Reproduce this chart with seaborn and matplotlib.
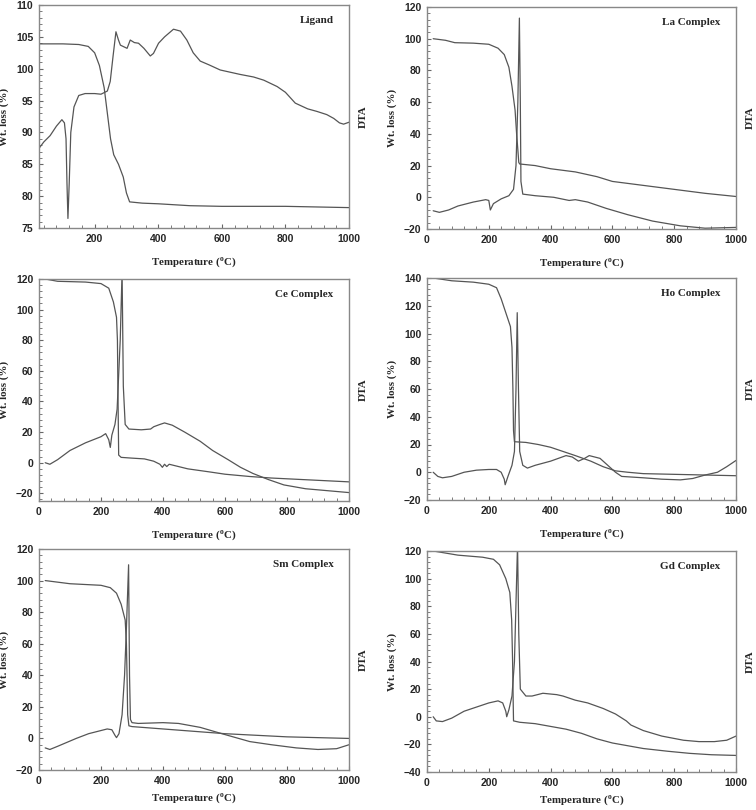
import matplotlib
matplotlib.use("Agg")
import numpy as np
import pandas as pd
import seaborn as sns
import matplotlib.pyplot as plt
from matplotlib.ticker import MultipleLocator, AutoMinorLocator

# ---- Ligand ----
ligand_tga_t = [25, 100, 150, 180, 200, 215, 230, 240, 250, 260, 275, 290, 300, 310, 350, 400, 500, 600, 800, 1000]
ligand_tga_w = [103.9, 103.9, 103.8, 103.5, 102.5, 100.5, 97, 93, 89, 86.5, 85, 83, 80.5, 79.1, 78.9, 78.8, 78.5, 78.4, 78.4, 78.2]
ligand_dta_t = [25, 40, 60, 80, 97, 105, 110, 113, 116, 120, 125, 135, 150, 170, 200, 220, 240, 249, 258, 267, 275, 281, 302, 312, 325, 338, 355, 375, 385, 401, 420, 448, 470, 490, 510, 532, 560, 595, 658, 700, 732, 774, 800, 831, 870, 899, 930, 952, 970, 983, 1000]
ligand_dta_v = [87.5, 88.5, 89.5, 91, 92, 91.5, 89, 82, 76.5, 82, 90, 94, 95.8, 96.1, 96.1, 96, 96.5, 98, 102, 105.8, 104.5, 103.7, 103.2, 104.5, 104.1, 104, 103.2, 102.0, 102.4, 104, 105, 106.2, 105.9, 104.5, 102.5, 101.2, 100.6, 99.8, 99.1, 98.7, 98.2, 97.2, 96.3, 94.6, 93.7, 93.3, 92.8, 92.2, 91.5, 91.3, 91.6]

# ---- La complex ----
la_tga_t = [20, 60, 90, 150, 200, 230, 250, 265, 275, 285, 290, 294, 297, 300, 350, 400, 480, 550, 600, 680, 800, 900, 1000]
la_tga_w = [100, 99, 97.5, 97.2, 96.5, 94, 90, 82, 70, 55, 40, 30, 22, 21, 20, 18, 16, 13, 10, 8, 5, 2.5, 0.5]
la_dta_t = [20, 40, 70, 100, 150, 190, 200, 205, 215, 240, 265, 280, 288, 294, 299, 302, 304, 310, 350, 410, 460, 480, 520, 580, 650, 730, 820, 900, 1000]
la_dta_v = [-8.5, -9.5, -8, -5.5, -3, -1.5, -2, -8, -4, -1, 1, 5, 20, 60, 113, 60, 10, 2, 1, 0, -2, -1.5, -3, -7, -11, -15, -18, -19.5, -19]

# ---- Ce complex ----
ce_tga_t = [20, 60, 150, 200, 225, 240, 250, 253, 255, 257, 265, 300, 340, 370, 390, 398, 405, 412, 420, 440, 480, 550, 600, 680, 750, 850, 1000]
ce_tga_w = [120, 118.5, 118, 117, 114, 105, 95, 80, 40, 5, 3.5, 3, 2.5, 1, -1, -3, -1, -2.5, -1, -2, -4, -6, -7.5, -9, -10, -11, -12.5]
ce_dta_t = [20, 35, 60, 100, 150, 200, 215, 225, 230, 235, 245, 252, 262, 268, 272, 278, 290, 330, 360, 370, 390, 405, 430, 470, 520, 560, 610, 650, 690, 740, 790, 860, 1000]
ce_dta_v = [0, -1, 2, 8, 13, 17, 19, 15, 10, 18, 25, 35, 80, 125, 50, 25, 22, 21.5, 22, 23.5, 25, 26, 24.5, 20, 14, 8, 2, -3, -7, -11, -14.5, -17, -19.5]

# ---- Ho complex ----
ho_tga_t = [20, 80, 150, 200, 225, 240, 255, 270, 275, 278, 280, 283, 320, 360, 400, 440, 480, 530, 570, 610, 650, 700, 800, 900, 1000]
ho_tga_w = [140, 138, 137, 135.5, 133, 125, 115, 105, 90, 60, 30, 22, 21.5, 20, 18, 15, 12, 8, 4, 1, 0, -1, -1.5, -2, -2.5]
ho_dta_t = [20, 35, 50, 80, 120, 160, 200, 225, 240, 250, 253, 262, 275, 283, 288, 292, 296, 300, 310, 325, 350, 400, 450, 470, 490, 510, 525, 560, 585, 610, 630, 700, 760, 820, 860, 900, 940, 970, 1000]
ho_dta_v = [0, -3, -4, -3, 0, 1.5, 2, 2, 0, -5, -9, -3, 5, 15, 60, 115, 60, 15, 5, 3, 5, 8, 12, 11, 8, 10, 12, 10, 5, 0, -3, -4, -5, -5.5, -4.5, -2, 0, 4, 8.5]

# ---- Sm complex ----
sm_tga_t = [20, 100, 150, 200, 230, 250, 265, 278, 282, 284, 286, 290, 300, 400, 500, 600, 700, 800, 900, 1000]
sm_tga_w = [100, 98, 97.5, 97, 95.5, 92, 85, 75, 60, 40, 15, 8, 7.5, 6, 4.5, 3, 2, 1, 0.5, 0]
sm_dta_t = [20, 35, 60, 120, 160, 220, 235, 245, 250, 258, 268, 276, 282, 289, 292, 295, 300, 320, 400, 450, 520, 590, 680, 750, 830, 900, 960, 1000]
sm_dta_v = [-6, -7, -5, 0, 3, 6, 5.5, 2, 0.5, 3, 15, 40, 70, 110, 40, 12, 10, 9.5, 10, 9.5, 7, 3, -2, -4, -6, -7, -6.5, -4]

# ---- Gd complex ----
gd_tga_t = [20, 100, 180, 215, 235, 255, 268, 274, 277, 279, 280, 300, 350, 400, 450, 500, 550, 600, 650, 700, 780, 850, 920, 1000]
gd_tga_w = [120, 117, 115.5, 114, 110, 100, 90, 70, 40, 10, -3, -4, -5, -7, -9, -12, -16, -19, -21, -23, -25, -26.5, -27.5, -28]
gd_dta_t = [20, 30, 50, 80, 120, 160, 200, 230, 245, 255, 258, 265, 275, 283, 293, 297, 302, 320, 340, 375, 420, 440, 480, 520, 570, 610, 645, 660, 700, 760, 830, 880, 930, 970, 1000]
gd_dta_v = [0, -3, -3.5, -1, 4, 7, 10, 11.5, 10, 4, 0, 5, 15, 40, 125, 60, 20, 15, 15, 17, 16, 15, 12, 10, 6, 2, -3, -6, -10, -14, -17, -18, -18, -17, -14]

panels = [
    ("Ligand", ligand_tga_t, ligand_tga_w, ligand_dta_t, ligand_dta_v, (25, 1000), (75, 110), 5),
    ("La Complex", la_tga_t, la_tga_w, la_dta_t, la_dta_v, (0, 1000), (-20, 120), 20),
    ("Ce Complex", ce_tga_t, ce_tga_w, ce_dta_t, ce_dta_v, (0, 1000), (-25, 120), 20),
    ("Ho Complex", ho_tga_t, ho_tga_w, ho_dta_t, ho_dta_v, (0, 1000), (-20, 140), 20),
    ("Sm Complex", sm_tga_t, sm_tga_w, sm_dta_t, sm_dta_v, (0, 1000), (-20, 120), 20),
    ("Gd Complex", gd_tga_t, gd_tga_w, gd_dta_t, gd_dta_v, (0, 1000), (-40, 120), 20),
]

# axes boxes in pixels: left, top, right, bottom
boxes = [
    (39, 5, 349, 228), (427, 7, 736, 229),
    (39, 279, 349, 501), (427, 278, 736, 500),
    (39, 549, 349, 770), (427, 551, 736, 772),
]

sns.set_style("ticks")
plt.rcParams['mathtext.fontset'] = 'custom'
plt.rcParams['mathtext.rm'] = 'Liberation Serif:bold'
plt.rcParams['mathtext.bf'] = 'Liberation Serif:bold'

W, H = 756, 810
fig = plt.figure(figsize=(W / 100, H / 100), dpi=100)
line_col = "#555555"
serif = dict(family="Liberation Serif", weight="bold")

for i, ((name, tt, tw, dt, dv, xl, yl, ystep), (l, t, r, b)) in enumerate(zip(panels, boxes)):
    ax = fig.add_axes([l / W, 1 - b / H, (r - l) / W, (b - t) / H])
    sns.lineplot(x=tt, y=tw, ax=ax, color=line_col, lw=0.9, sort=False)
    sns.lineplot(x=dt, y=dv, ax=ax, color=line_col, lw=0.9, sort=False)
    ax.set_xlim(*xl)
    ax.set_ylim(*yl)
    ax.xaxis.set_major_locator(MultipleLocator(200))
    ax.xaxis.set_minor_locator(AutoMinorLocator(5))
    ax.yaxis.set_major_locator(MultipleLocator(ystep))
    ax.yaxis.set_minor_locator(AutoMinorLocator(5))
    ax.tick_params(which="both", direction="in", top=False, right=False, color="#666666")
    ax.tick_params(which="major", length=3, width=0.8, pad=4)
    ax.tick_params(which="minor", length=2, width=0.6)
    for lab in ax.get_xticklabels() + ax.get_yticklabels():
        lab.set_fontfamily("Liberation Sans")
        lab.set_fontweight("bold")
        lab.set_fontsize(7.5)
    for s in ax.spines.values():
        s.set_color("#888888")
        s.set_linewidth(1.0)
    pad = 4 if i >= 4 else 8
    ax.set_xlabel(r"Temperature ($^{\mathbf{o}}$C)", fontsize=7.8, labelpad=pad, **serif)
    ax.set_ylabel("Wt. loss (%)", fontsize=7.8, labelpad=5, **serif)
    ax.text(1.045, 0.5, "DTA", transform=ax.transAxes, rotation=90,
            ha="center", va="center", fontsize=8, **serif)
    ax.text(0.95, 0.93, name, transform=ax.transAxes, ha="right", va="center",
            fontsize=8, **serif)

fig.savefig("out.png", dpi=100)
